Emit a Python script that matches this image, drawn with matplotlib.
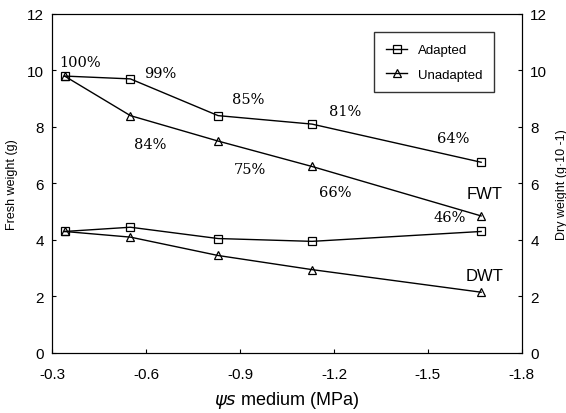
import numpy as np
import matplotlib.pyplot as plt
from matplotlib.pyplot import MultipleLocator

psi = [-0.34, -0.55, -0.83, -1.13, -1.67]
fwt_adapted = [9.8, 9.7, 8.4, 8.1, 6.75]
fwt_unadapted = [9.8, 8.4, 7.5, 6.6, 4.85]
dwt_adapted = [4.3, 4.45, 4.05, 3.95, 4.3]
dwt_unadapted = [4.3, 4.1, 3.45, 2.95, 2.15]

pct_adapted = ["100%", "99%", "85%", "81%", "64%"]
pct_unadapted = ["84%", "75%", "66%", "46%"]

plt.rcParams['font.family'] = ['Liberation Sans', 'DejaVu Sans']
fig = plt.figure(figsize=(5.66, 4.14), dpi=100)
ax = fig.add_axes([0.092, 0.145, 0.83, 0.819])

mk = dict(color='black', linewidth=1, markersize=6, markerfacecolor='none', markeredgewidth=0.9)
ax.plot(psi, fwt_adapted, marker='s', label="Adapted", **mk)
ax.plot(psi, fwt_unadapted, marker='^', label="Unadapted", **mk)
ax.plot(psi, dwt_adapted, marker='s', **mk)
ax.plot(psi, dwt_unadapted, marker='^', **mk)

ax.set_xlim(-0.3, -1.8)
ax.set_ylim(0, 12)
ax.yaxis.set_major_locator(MultipleLocator(2))
ax.set_xticks([-0.3, -0.6, -0.9, -1.2, -1.5, -1.8], ["-0.3", "-0.6", "-0.9", "-1.2", "-1.5", "-1.8"])
ax.tick_params(direction='in', length=3, labelsize=11)
ax.tick_params(axis='x', pad=10)
ax.tick_params(axis='y', pad=6)

ax2 = ax.twinx()
ax2.set_ylim(0, 12)
ax2.yaxis.set_major_locator(MultipleLocator(2))
ax2.tick_params(direction='in', length=3, labelsize=11, pad=6)
ax2.set_ylabel("Dry weight (g\u00b710 -1)", fontsize=9, labelpad=6)

ax.set_ylabel("Fresh weight (g)", fontsize=9, labelpad=6)
ax.set_xlabel("$\\psi s$ medium (MPa)", fontsize=13, labelpad=6)

# percentage annotations (offsets in data units from each point)
offs_a = [(-0.05, 0.5), (-0.095, 0.2), (-0.095, 0.6), (-0.105, 0.45), (0.09, 0.85)]
for x, y, t, (dx, dy) in zip(psi, fwt_adapted, pct_adapted, offs_a):
    ax.text(x + dx, y + dy, t, fontsize=10.5, family='DejaVu Serif', ha='center', va='center')
offs_u = [(-0.063, -1.0), (-0.1, -1.0), (-0.073, -0.9), (0.1, -0.05)]
for x, y, t, (dx, dy) in zip(psi[1:], fwt_unadapted[1:], pct_unadapted, offs_u):
    ax.text(x + dx, y + dy, t, fontsize=10.5, family='DejaVu Serif', ha='center', va='center')

ax.text(-1.68, 5.63, "FWT", fontsize=12, ha='center', va='center')
ax.text(-1.68, 2.73, "DWT", fontsize=12, ha='center', va='center')

ax.legend(loc='upper right', bbox_to_anchor=(0.955, 0.965), fontsize=9.5, frameon=True,
          fancybox=False, edgecolor='black', handlelength=1.6, borderpad=0.9, labelspacing=0.9)

plt.savefig("out.png", dpi=100)
plt.close()
